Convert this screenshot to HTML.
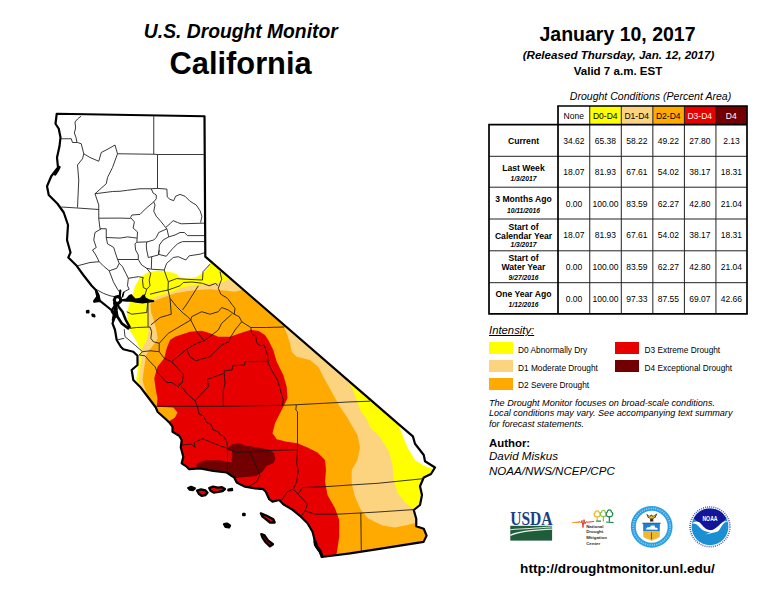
<!DOCTYPE html>
<html lang="en"><head><meta charset="utf-8"><title>U.S. Drought Monitor - California</title>
<style>
html,body{margin:0;padding:0;background:#fff;overflow:hidden;}
body{width:768px;height:593px;position:relative;overflow:hidden;font-family:"Liberation Sans",sans-serif;color:#000;}
.map{position:absolute;left:0;top:0;}
.t{position:absolute;white-space:nowrap;}
.b{font-weight:bold;}
.i{font-style:italic;}
.c{position:absolute;text-align:center;font-size:8.5px;white-space:nowrap;overflow:hidden;}
.rl{position:absolute;display:flex;align-items:center;justify-content:center;}
.rli{text-align:center;}
.lb{font-weight:bold;font-size:8.6px;line-height:8.8px;white-space:nowrap;}
.dt{font-style:italic;font-size:6.5px;line-height:7.5px;margin-top:1px;white-space:nowrap;}
.ln{position:absolute;background:#000;}
.sw{position:absolute;width:24px;height:12px;}
.logos{position:absolute;left:0;top:0;}
</style></head>
<body>
<svg class="map" width="768" height="593" viewBox="0 0 768 593">
<defs><clipPath id="st"><path d="M56.75 113.75 L204.5 116.25 L205.3 256.7 L370 399.4 L398.8 424.4 L412.9 436.4 L415 443.75 L423.75 455 L425 461.25 L435 467.5 L431 474 L423.75 477.5 L420 486.25 L422 495 L420 505 L413.75 510 L416.25 518.75 L416.25 526.25 L423.75 528.75 L426.6 535.6 L423.6 541.9 L377.8 549.1 L350 553.4 L321.7 557 L320.8 552.5 L318.3 550 L315 545 L314.2 538.3 L312.5 531.7 L307.5 523.3 L300 515.8 L291.7 509.2 L283.3 504.2 L279.2 500 L272.5 501.7 L269.2 499.2 L265.8 491.7 L263.3 489.2 L255 488.3 L245 486.7 L236.7 482.5 L234.2 477.5 L226.7 472.5 L213.3 470.8 L200 468.3 L189.2 469.2 L186.7 466.7 L181.7 463.3 L183.3 456.7 L180.8 447.5 L181.7 440 L179.2 435.8 L172.5 431.7 L172.5 426.7 L170 423.3 L166.7 420 L157.5 411.7 L155.8 407.5 L148.3 397.5 L140 386.7 L133.3 380 L131.7 370 L137.5 365 L137.5 355.8 L133.3 351.7 L123.3 349.2 L120.8 346.7 L116.7 340 L115 330 L112.5 323.3 L115 316.7 L114.2 312.5 L108.3 307.5 L100 300.8 L94.2 301.7 L98.3 295.8 L95.8 290 L91.7 285.8 L83.3 275 L76.7 265.8 L68.3 257.5 L70.5 252.5 L67 240 L68 225 L63.75 212.5 L57.5 203.75 L48.75 195 L47 186.25 L51.25 176.25 L58 167.5 L57 157.5 L59.5 146.25 L60.5 137.5 L58.75 128.75 L55.5 123.75Z"/></clipPath></defs>
<path d="M56.75 113.75 L204.5 116.25 L205.3 256.7 L370 399.4 L398.8 424.4 L412.9 436.4 L415 443.75 L423.75 455 L425 461.25 L435 467.5 L431 474 L423.75 477.5 L420 486.25 L422 495 L420 505 L413.75 510 L416.25 518.75 L416.25 526.25 L423.75 528.75 L426.6 535.6 L423.6 541.9 L377.8 549.1 L350 553.4 L321.7 557 L320.8 552.5 L318.3 550 L315 545 L314.2 538.3 L312.5 531.7 L307.5 523.3 L300 515.8 L291.7 509.2 L283.3 504.2 L279.2 500 L272.5 501.7 L269.2 499.2 L265.8 491.7 L263.3 489.2 L255 488.3 L245 486.7 L236.7 482.5 L234.2 477.5 L226.7 472.5 L213.3 470.8 L200 468.3 L189.2 469.2 L186.7 466.7 L181.7 463.3 L183.3 456.7 L180.8 447.5 L181.7 440 L179.2 435.8 L172.5 431.7 L172.5 426.7 L170 423.3 L166.7 420 L157.5 411.7 L155.8 407.5 L148.3 397.5 L140 386.7 L133.3 380 L131.7 370 L137.5 365 L137.5 355.8 L133.3 351.7 L123.3 349.2 L120.8 346.7 L116.7 340 L115 330 L112.5 323.3 L115 316.7 L114.2 312.5 L108.3 307.5 L100 300.8 L94.2 301.7 L98.3 295.8 L95.8 290 L91.7 285.8 L83.3 275 L76.7 265.8 L68.3 257.5 L70.5 252.5 L67 240 L68 225 L63.75 212.5 L57.5 203.75 L48.75 195 L47 186.25 L51.25 176.25 L58 167.5 L57 157.5 L59.5 146.25 L60.5 137.5 L58.75 128.75 L55.5 123.75Z" fill="#ffffff"/>
<g clip-path="url(#st)">
<polygon fill="#ffff00" points="215,258 210,262.5 207.5,268.3 202.5,273.3 196.7,276.7 190,278.3 180,277.5 176,273.75 170,271.9 157.5,270.6 147.5,272.5 140,277.5 135,286.25 132.5,295 129.4,303.75 126.9,312.5 127.5,322.5 130,331 135,338.4 139.3,346.9 141.5,350.5 139.6,353.5 139.3,355.3 138.4,363.7 137.2,372.2 136.3,379.7 138,384.5 140.8,387.5 120,395 120,600 450,600 450,470 432.5,468.75 425,466.25 415,460 407.5,447.5 402.5,435 397.5,422.5 405,410"/>
<polygon fill="#fcd37f" points="240,270 229.2,279.2 221.7,282.5 213.3,283.3 203.3,284.2 190,285.8 180,288.3 176,290.6 167.5,293.5 155,296.9 148.2,304.2 148.2,325.3 148.5,330 147.3,338.4 145.2,342.6 143,346.9 141.2,351 141.8,355.3 141,363.7 139.7,372.2 138.9,379.7 140,386 142.5,390 130,395 130,600 450,600 450,509.5 417,509.5 412.5,508.75 405,502.5 397.5,492.5 393.75,480 392.5,465 388.75,451 380,437 370,427.5 367.5,420 360,410 355,395 350,383.75 360,380"/>
<polygon fill="#ffaa00" points="255,285 241.7,290 235,291.7 226.7,290.8 218.3,290 210,289.2 196.7,290 186.7,291.3 180,292.5 176,293.1 167.5,296 157.5,299.4 151.6,302.5 150.3,304.2 151.1,312.6 154.1,321.1 156.2,329.5 157.8,338.4 155.3,342.6 151.9,346.9 148.5,351 146,355.3 144.8,363.7 143.5,372.2 142.6,379.7 144,386 147.5,395 135,400 135,600 450,600 450,520 416.5,522.8 407.5,525 395,527.4 382.5,525.4 377.8,523.2 368.3,518.6 360.5,509.3 355,496.7 351.7,483.3 351.7,470 357.5,460 360,447.5 357.5,435 350,422.5 347.8,418.3 340,406.7 331.7,391.7 323.3,376.7 318.3,366.7 310,360 296.7,356.7 291.7,351.7 290,343.3 286.7,333.3 284.2,327.5 295,320"/>
<polygon fill="#e60000" points="170,420.8 175,417.5 177.5,412.5 173.3,407.5 156.7,406.7 157.5,398.3 155.8,390 154.2,378.3 157.5,366.7 164.2,358.3 166.7,348.3 170,340 175,336.75 180,335 190,331.7 201.7,330.8 210,333.3 218.3,336.7 230,336.7 240,333.3 250,330 258.3,330.8 265,335 268.3,340 273.3,350 276.7,361.7 283.3,375 286.7,386.7 287.5,398.3 284.2,405 280,413.3 275,423.3 272.5,433.3 276.7,439.2 286.7,441.7 297.5,443.2 307.5,447.5 317.5,452.5 325,460 326,470 325,481.7 327.5,495 335,508.3 339.2,520 339.2,536.7 337.5,548.3 336.7,553.3 337,600 100,600 100,425"/>
<polygon fill="#730000" points="227.5,448.3 231.7,444.2 238.3,443.3 246.7,445.8 258.3,447.5 270,450 274.2,453.3 275.3,459.2 273.3,463.3 266.7,465.8 262.5,471.7 256.7,475.8 246.7,477 240,477.5 234.2,478.5 227.5,476 210,474 196,472 196.7,464.2 200.5,462 205.8,460.3 220,460.3 227.5,462 231.9,461.9 231.9,450.8 228.6,450.4"/>
</g>
<path d="M81 116.25 L77.5 119 L75 122 L75.6 128 L74.4 133 L76 137.5 L77 142.5 M61.25 138.75 L71.25 138.75 L72.5 142.5 L77.5 142.5 L81.25 143.75 M81.25 143.75 L83.75 153.75 L82.5 158.75 L77.5 165 L78.75 180 L77.5 207.5 M83.75 153.75 L90 157.5 L98.75 161.25 L101.25 152.5 L108 149 L115 145 L117.5 153.75 M117.5 153.75 L153.75 154.25 L157.5 154.5 L203.75 154.5 M153.75 116.25 L153.75 154.25 M117.5 153.75 L112.5 167.5 L107.5 177.5 L106.25 183.75 L95 193.75 M157.5 154.5 L157.5 188.4 M95 193.75 L112.5 191.5 L120 191.25 L127.5 190.25 L140 188.75 L151.25 188.75 L157.5 188.4 L166.9 189.1 M166.9 189.1 L167.25 196.9 L170 199.4 L173.75 200.6 L175.6 196.25 L180 194.4 L185 196.25 L190 201.25 L196.25 205 L200 210.6 L201.9 216.25 L200.6 222.5 M95 193.75 L98.75 205 L98.75 218.75 L100 228.75 M61.25 207 L77.5 208 L98.75 209.5 M98.75 218.2 L120 218.1 L130.6 218.4 M151.25 188.75 L153.1 193.1 L156.25 195 L156.25 198.75 L153.75 201.9 L150 205 L146.25 208.1 L142.5 211.9 L140 214.4 L131.9 215 L130.6 217.5 L134.4 221.9 L133.1 228.1 L137.5 231.9 L136.9 241.9 M153.75 201.9 L155 205 L153.75 211.25 L156.25 216.25 L161.25 221.9 L165.6 227.5 M165.6 227.5 L170 223.75 L173.1 220.6 L177.5 222.5 L181.25 223.8 L205 223.1 M166.9 228.75 L158.75 232.5 L156.25 237.5 L153.75 240 L146.9 241.9 L136.9 242.25 M165.6 227.5 L166.9 228.75 L168.75 236.9 L175 235 L180 232.5 L184.4 232.5 L187.5 235.6 L205 235.6 M168.75 236.9 L163.1 240 L159.4 245 L158.75 254.4 M205 241.6 L182.5 241.6 L177.5 243.75 L172.5 248.75 L168.75 253.1 L166.25 256.25 L158.75 254.4 M100 228.75 L106.25 228.75 L106.25 237.5 L120 238.1 L127.5 236.9 L132.5 237.5 L136.9 238.1 M101.25 228.75 L95 232.5 L93.75 240 L96.25 247.5 L92.5 250 L95.8 255 L99.2 261.7 M106.25 237.5 L107.5 243.75 L113.75 247.5 L115 251.7 L117.5 259.2 M136.9 242.25 L135 243.75 L135.6 250 L138.3 255 L138.3 259.5 M146.9 241.9 L146.25 245 L146.7 250 L148.3 257.5 L151.7 256.7 M77.5 265.8 L90 262.5 L99.2 261.7 L104.2 266.7 L109.2 270.8 M109.2 270.8 L116.7 268.3 L119.2 263.3 L117.5 259.2 M117.5 259.5 L138.3 259.5 L141.7 265 L146.7 268.3 L150.8 269.2 M159.2 250 L158.3 255 L151.7 256.7 L151.3 269.2 L164.2 270 M164.2 270 L166.7 263.3 L173.3 257.5 L178.3 256.7 L185.8 260 L189.2 255.8 L200 254.2 L205 252.5 M109.2 270.8 L113.3 281.7 L117.5 289.2 L119.2 291.7 M119.2 263.3 L122.5 266.7 L125.8 273.3 L128.3 278.3 L127.5 285.8 L129.2 289.2 L124.2 291.7 L122.5 295.8 M128.3 278.3 L133.3 277.5 L138.3 276.7 L143.3 277.5 M146.7 268.3 L150.8 273.3 L149.2 280 L150 285.8 L146.7 289.2 L143.3 287.5 L142.5 280 L143.3 277.5 M146.7 289.2 L145 295 M164.2 270 L166.7 277.5 L168.3 281.7 L168 290 M168.3 281.7 L176.7 278.6 L185 279.2 L202.5 280 L203 271.7 L210 264.2 M150 294.2 L160 291.7 L168 290 L180 285.8 L183.3 282.5 L192 282 L202.5 283.3 L209.2 285.8 L215.8 283.3 L217.5 285.8 M168 290 L170 298.3 L171.3 314.2 L160 317.5 L150.8 325 M170 298.3 L176.7 306.7 L183.3 313.3 L187.8 316.7 L190.8 320 M182.5 310 L186.7 304.2 L192.5 295 L198.3 285.8 M126.7 311.7 L131.7 314.2 L146.7 312.5 L148 300 M148 300 L148 326.7 M130 328.3 L136.7 327.5 L150 327 M150 327 L151.7 331.7 L150.8 338.3 L153.3 341.7 L159.2 343.3 L159.2 351.7 M159.2 343.3 L168.3 333.3 L176.7 328.3 L190.8 320 M124.2 329.2 L125 336.7 L130 340.8 L135.8 345.8 L142.5 351.7 L139.2 355 M116.7 340 L124.2 338.3 M95.8 289.2 L103.3 293.3 L110 295.8 L115 296.7 M220 271.7 L221.7 279.2 L220 283.3 L218.3 288.3 L220.8 294.2 L227.5 298.3 L231.7 304.2 L235 308.3 L234.2 314.2 M190.8 320 L191.7 316.7 L201.7 311.7 L210 314.2 L218.3 311.7 L221.7 307.5 L228.3 310 L234.2 314.2 M190.8 320 L196.7 331.7 L204.2 340.8 L196.7 343.3 L186.7 349.2 M231.7 314.2 L221.7 323.3 L218.3 330 L204.2 340.8 M234.2 314.2 L239.2 316.7 L241.7 321.7 L235 330 L230 338.3 L229.2 341.7 L221.7 345 L216.7 350 L210 356.7 L195.8 360.8 L190 356.7 L186.7 349.2 M241.7 321.7 L250.8 327.5 L266.7 327.5 L284.2 327 M250.8 327.5 L251.7 333.3 L255.8 336.7 L256.7 342.5 L260 345.8 L264.2 345 L267.5 355 L268.3 363.3 L273.3 373.3 L277.5 380 L280.8 391.7 L283.3 400 L282.5 405 M142.5 351.7 L150 350.8 L159.2 351.7 L164.2 358.3 M139.2 355 L145 355.8 L150 361.7 L155 366.7 L157.5 372.5 L166.7 382.5 L171.7 382.5 L178.3 386.7 L181.7 383.3 M164.2 358.3 L171.7 361.7 L183.3 374.2 L182.5 382.5 L178.3 384.2 M171.7 361.7 L186.7 349.2 M181.7 386.7 L186.7 393.3 L195 400.8 L197.5 406.3 M195 400.8 L208.3 386.7 L207.5 379.2 L224.2 373.3 L224.2 370.8 L232.2 370 L232.5 365.8 L244.7 365 L245 361.7 L267.5 361.3 M224.2 373.3 L225 383.3 L223.3 390 L223.3 406.3 M156.7 406.3 L197.5 406.3 L223.3 406.3 L253.3 405.8 L283.3 405.3 L296.7 404.7 L323.3 403.3 L347.8 402 L370 401.2 M296.3 405 L295.8 410 L297.5 411.7 L297.5 450 L296.7 463.3 L298.3 470 L296.7 481.7 L293.3 489.2 M197.5 406.7 L199.2 414.2 L203.3 415.8 L206.7 422.5 L210.8 424.2 L213.3 430 L218.3 431.7 L220 435 L223.3 435.8 L226.7 441.7 L227.5 447.5 M227.5 447.5 L227.5 471.7 M181.7 445 L191.7 444.2 L195 447.5 L194.2 442.5 L202.5 438.7 L211.7 442.5 L220 445.8 L227.5 448.3 M227.5 448.3 L236.7 452.5 L250 451.7 L270 450.5 L297.8 449.7 M250 451.7 L260 475 L256.7 481.7 L248.3 486.7 M293.3 489.2 L298.3 494.2 L307.5 504.2 L305 510.8 L301.7 515.8 M293.3 489.2 L287.5 491.7 L281.7 500 M298.3 494.2 L302.5 487.5 L325 486.7 L350 485 L377.8 483.3 L422.5 478.75 M305 510.8 L315 514.2 L336.7 514.2 L360 513 L377.8 512 L415 509.5 M360.8 513 L361.3 550.5" fill="none" stroke="#151515" stroke-width="0.85" stroke-linejoin="round"/>
<path d="M56.75 113.75 L204.5 116.25 L205.3 256.7 L370 399.4 L398.8 424.4 L412.9 436.4 L415 443.75 L423.75 455 L425 461.25 L435 467.5 L431 474 L423.75 477.5 L420 486.25 L422 495 L420 505 L413.75 510 L416.25 518.75 L416.25 526.25 L423.75 528.75 L426.6 535.6 L423.6 541.9 L377.8 549.1 L350 553.4 L321.7 557 L320.8 552.5 L318.3 550 L315 545 L314.2 538.3 L312.5 531.7 L307.5 523.3 L300 515.8 L291.7 509.2 L283.3 504.2 L279.2 500 L272.5 501.7 L269.2 499.2 L265.8 491.7 L263.3 489.2 L255 488.3 L245 486.7 L236.7 482.5 L234.2 477.5 L226.7 472.5 L213.3 470.8 L200 468.3 L189.2 469.2 L186.7 466.7 L181.7 463.3 L183.3 456.7 L180.8 447.5 L181.7 440 L179.2 435.8 L172.5 431.7 L172.5 426.7 L170 423.3 L166.7 420 L157.5 411.7 L155.8 407.5 L148.3 397.5 L140 386.7 L133.3 380 L131.7 370 L137.5 365 L137.5 355.8 L133.3 351.7 L123.3 349.2 L120.8 346.7 L116.7 340 L115 330 L112.5 323.3 L115 316.7 L114.2 312.5 L108.3 307.5 L100 300.8 L94.2 301.7 L98.3 295.8 L95.8 290 L91.7 285.8 L83.3 275 L76.7 265.8 L68.3 257.5 L70.5 252.5 L67 240 L68 225 L63.75 212.5 L57.5 203.75 L48.75 195 L47 186.25 L51.25 176.25 L58 167.5 L57 157.5 L59.5 146.25 L60.5 137.5 L58.75 128.75 L55.5 123.75Z" fill="none" stroke="#000" stroke-width="2.2" stroke-linejoin="round"/>
<path d="M315.2 542 L316.6 546.4 L319.6 550.4 L321.6 555.2" fill="none" stroke="#000" stroke-width="3.2" stroke-linejoin="round" stroke-linecap="round"/>
<path d="M59.4 167.2 L57.6 170.6 L55.2 174.4" fill="none" stroke="#000" stroke-width="2.6" stroke-linejoin="round" stroke-linecap="round"/>
<path d="M121.5 299.3 L126 298.4 L129 295 L131.5 294.1 L133.5 296.5 L135.5 298.4 L140 297.8 L142.5 295 L144.8 294.3 L145.7 297.5 L149 299.3 L154.2 300.2 L154.2 302 L148 302.8 L142.5 303.4 L136 302.8 L131 301.8 L126.5 301.8 L121.5 301.2Z" fill="#000"/>
<path d="M114.2 300 L115.4 297.2 L118 296.4 L120.4 298.2 L120.6 301.4 L118.4 303.4 L115.4 303 L114.2 300" fill="none" stroke="#000" stroke-width="3" stroke-linejoin="round" stroke-linecap="round"/>
<path d="M119.6 297.5 L120.3 290.6" fill="none" stroke="#000" stroke-width="2.2" stroke-linejoin="round" stroke-linecap="round"/>
<path d="M122.5 296.8 L123.6 292.6" fill="none" stroke="#000" stroke-width="1.6" stroke-linejoin="round" stroke-linecap="round"/>
<path d="M114.4 303 L115.4 306.7 L116.2 311 L117.5 316.7 L121.7 323.3 L128.3 328.3" fill="none" stroke="#000" stroke-width="2.7" stroke-linejoin="round" stroke-linecap="round"/>
<path d="M117.4 304 L118.6 306.7 L122.5 311.7 L125.8 320 L129.6 326.9" fill="none" stroke="#000" stroke-width="2.5" stroke-linejoin="round" stroke-linecap="round"/>
<path d="M113.8 313 L116.2 308.5" fill="none" stroke="#000" stroke-width="3" stroke-linejoin="round" stroke-linecap="round"/>
<path d="M112.6 309 L115.6 305" fill="none" stroke="#000" stroke-width="2.4" stroke-linejoin="round" stroke-linecap="round"/>
<path d="M94.6 288.2 L97.2 290.4 L99.4 294.6 L100.8 300.2 L98.4 300.6 L94.2 302.6 L93.2 300.6 L96.2 296.6 L95.4 293Z" fill="#000"/>
<path d="M115.2 303 L116.2 316" fill="none" stroke="#000" stroke-width="3.4" stroke-linejoin="round" stroke-linecap="round"/>
<path d="M112 311.5 L114 314.5 L113 320" fill="none" stroke="#000" stroke-width="2.6" stroke-linejoin="round" stroke-linecap="round"/>
<path d="M188.3 488 L191 486.9 L194.8 488.4 L193 490 L189.6 489.6Z" fill="#000" stroke="#000" stroke-width="2.3" stroke-linejoin="round"/>
<path d="M197 490.5 L201 489.4 L205.5 490.4 L207.5 492.8 L205.5 495 L201.6 495.8 L198.8 493.8Z" fill="#e60000" stroke="#000" stroke-width="2.3" stroke-linejoin="round"/>
<path d="M209.2 488 L213 486.7 L218 487.6 L222 487.2 L225 489 L222.6 491 L218.6 491.8 L213.6 492.5 L210.6 490.8Z" fill="#e60000" stroke="#000" stroke-width="2.3" stroke-linejoin="round"/>
<path d="M228.4 489.6 L232 489 L232 490.2 L228.4 490.4Z" fill="#000" stroke="#000" stroke-width="2.3" stroke-linejoin="round"/>
<path d="M260.8 513.3 L266.7 515.8 L273.3 519.2 L274.7 522.5 L270 522.5 L265.8 519.2 L262.5 516.7Z" fill="#e60000" stroke="#000" stroke-width="2.3" stroke-linejoin="round"/>
<path d="M261.3 534.2 L264.2 535 L268.3 540.8 L273 544.2 L270 546.3 L265.8 542.5 L262.5 537.5Z" fill="#c00000" stroke="#000" stroke-width="2.3" stroke-linejoin="round"/>
<path d="M224 524.2 L227 523.6 L230 525.4 L229 527.4 L225.6 526.8Z" fill="#000" stroke="#000" stroke-width="2.3" stroke-linejoin="round"/>
<path d="M243.2 514 L244.6 513.8 L244.6 515.2 L243.2 515.2Z" fill="#000" stroke="#000" stroke-width="2.3" stroke-linejoin="round"/>
<path d="M87 311.2 L88.4 311 L88.4 312.4 L87 312.4Z" fill="#000" stroke="#000" stroke-width="2.3" stroke-linejoin="round"/>
<path d="M92.4 314.6 L94 315 L94.4 316.4 L92.8 316Z" fill="#000" stroke="#000" stroke-width="2.3" stroke-linejoin="round"/>
</svg>
<div class="t b i" style="top:21.23px;font-size:19.30px;line-height:21.558px;left:40.80px;width:400.00px;text-align:center;">U.S. Drought Monitor</div>
<div class="t b" style="top:46.63px;font-size:30.80px;line-height:34.404px;left:40.60px;width:400.00px;text-align:center;">California</div>
<div class="t b" style="top:23.85px;font-size:19.50px;line-height:21.782px;left:467.00px;width:301.00px;text-align:center;">January 10, 2017</div>
<div class="t b i" style="top:48.50px;font-size:11.60px;line-height:12.957px;left:469.00px;width:299.00px;text-align:center;">(Released Thursday, Jan. 12, 2017)</div>
<div class="t b" style="top:65.35px;font-size:11.55px;line-height:12.901px;left:468.00px;width:300.00px;text-align:center;">Valid 7 a.m. EST</div>
<div class="t i" style="top:91.45px;font-size:10.55px;line-height:11.784px;left:533.00px;width:235.00px;text-align:center;">Drought Conditions (Percent Area)</div>
<div class="c" style="left:558.00px;top:106.00px;width:31.50px;height:18.60px;background:#fff;color:#000;line-height:20.10px">None</div>
<div class="c" style="left:589.50px;top:106.00px;width:31.50px;height:18.60px;background:#ffff00;color:#000;line-height:20.10px">D0-D4</div>
<div class="c" style="left:621.00px;top:106.00px;width:31.50px;height:18.60px;background:#fcd37f;color:#000;line-height:20.10px">D1-D4</div>
<div class="c" style="left:652.50px;top:106.00px;width:31.50px;height:18.60px;background:#ffaa00;color:#000;line-height:20.10px">D2-D4</div>
<div class="c" style="left:684.00px;top:106.00px;width:31.50px;height:18.60px;background:#e60000;color:#fff;line-height:20.10px">D3-D4</div>
<div class="c" style="left:715.50px;top:106.00px;width:31.50px;height:18.60px;background:#730000;color:#fff;line-height:20.10px">D4</div>
<div class="t b" style="top:136.52px;font-size:8.60px;line-height:9.606px;left:323.50px;width:400.00px;text-align:center;">Current</div>
<div class="t " style="top:136.81px;font-size:8.50px;line-height:9.495px;left:379.90px;width:388.10px;text-align:center;">34.62</div>
<div class="t " style="top:136.81px;font-size:8.50px;line-height:9.495px;left:442.90px;width:325.10px;text-align:center;">65.38</div>
<div class="t " style="top:136.81px;font-size:8.50px;line-height:9.495px;left:505.90px;width:262.10px;text-align:center;">58.22</div>
<div class="t " style="top:136.81px;font-size:8.50px;line-height:9.495px;left:568.90px;width:199.10px;text-align:center;">49.22</div>
<div class="t " style="top:136.81px;font-size:8.50px;line-height:9.495px;left:631.90px;width:136.10px;text-align:center;">27.80</div>
<div class="t " style="top:136.81px;font-size:8.50px;line-height:9.495px;left:694.90px;width:73.10px;text-align:center;">2.13</div>
<div class="t b" style="top:163.52px;font-size:8.60px;line-height:9.606px;left:323.50px;width:400.00px;text-align:center;">Last Week</div>
<div class="t b i" style="top:174.89px;font-size:6.70px;line-height:7.484px;left:323.50px;width:400.00px;text-align:center;">1/3/2017</div>
<div class="t " style="top:168.36px;font-size:8.50px;line-height:9.495px;left:379.90px;width:388.10px;text-align:center;">18.07</div>
<div class="t " style="top:168.36px;font-size:8.50px;line-height:9.495px;left:442.90px;width:325.10px;text-align:center;">81.93</div>
<div class="t " style="top:168.36px;font-size:8.50px;line-height:9.495px;left:505.90px;width:262.10px;text-align:center;">67.61</div>
<div class="t " style="top:168.36px;font-size:8.50px;line-height:9.495px;left:568.90px;width:199.10px;text-align:center;">54.02</div>
<div class="t " style="top:168.36px;font-size:8.50px;line-height:9.495px;left:631.90px;width:136.10px;text-align:center;">38.17</div>
<div class="t " style="top:168.36px;font-size:8.50px;line-height:9.495px;left:694.90px;width:73.10px;text-align:center;">18.31</div>
<div class="t b" style="top:195.42px;font-size:8.60px;line-height:9.606px;left:323.50px;width:400.00px;text-align:center;">3 Months Ago</div>
<div class="t b i" style="top:207.19px;font-size:6.70px;line-height:7.484px;left:323.50px;width:400.00px;text-align:center;">10/11/2016</div>
<div class="t " style="top:199.91px;font-size:8.50px;line-height:9.495px;left:379.90px;width:388.10px;text-align:center;">0.00</div>
<div class="t " style="top:199.91px;font-size:8.50px;line-height:9.495px;left:442.90px;width:325.10px;text-align:center;">100.00</div>
<div class="t " style="top:199.91px;font-size:8.50px;line-height:9.495px;left:505.90px;width:262.10px;text-align:center;">83.59</div>
<div class="t " style="top:199.91px;font-size:8.50px;line-height:9.495px;left:568.90px;width:199.10px;text-align:center;">62.27</div>
<div class="t " style="top:199.91px;font-size:8.50px;line-height:9.495px;left:631.90px;width:136.10px;text-align:center;">42.80</div>
<div class="t " style="top:199.91px;font-size:8.50px;line-height:9.495px;left:694.90px;width:73.10px;text-align:center;">21.04</div>
<div class="t b" style="top:222.52px;font-size:8.60px;line-height:9.606px;left:323.50px;width:400.00px;text-align:center;">Start of</div>
<div class="t b" style="top:231.92px;font-size:8.60px;line-height:9.606px;left:323.50px;width:400.00px;text-align:center;">Calendar Year</div>
<div class="t b i" style="top:241.09px;font-size:6.70px;line-height:7.484px;left:323.50px;width:400.00px;text-align:center;">1/3/2017</div>
<div class="t " style="top:231.46px;font-size:8.50px;line-height:9.495px;left:379.90px;width:388.10px;text-align:center;">18.07</div>
<div class="t " style="top:231.46px;font-size:8.50px;line-height:9.495px;left:442.90px;width:325.10px;text-align:center;">81.93</div>
<div class="t " style="top:231.46px;font-size:8.50px;line-height:9.495px;left:505.90px;width:262.10px;text-align:center;">67.61</div>
<div class="t " style="top:231.46px;font-size:8.50px;line-height:9.495px;left:568.90px;width:199.10px;text-align:center;">54.02</div>
<div class="t " style="top:231.46px;font-size:8.50px;line-height:9.495px;left:631.90px;width:136.10px;text-align:center;">38.17</div>
<div class="t " style="top:231.46px;font-size:8.50px;line-height:9.495px;left:694.90px;width:73.10px;text-align:center;">18.31</div>
<div class="t b" style="top:253.92px;font-size:8.60px;line-height:9.606px;left:323.50px;width:400.00px;text-align:center;">Start of</div>
<div class="t b" style="top:263.32px;font-size:8.60px;line-height:9.606px;left:323.50px;width:400.00px;text-align:center;">Water Year</div>
<div class="t b i" style="top:273.79px;font-size:6.70px;line-height:7.484px;left:323.50px;width:400.00px;text-align:center;">9/27/2016</div>
<div class="t " style="top:263.01px;font-size:8.50px;line-height:9.495px;left:379.90px;width:388.10px;text-align:center;">0.00</div>
<div class="t " style="top:263.01px;font-size:8.50px;line-height:9.495px;left:442.90px;width:325.10px;text-align:center;">100.00</div>
<div class="t " style="top:263.01px;font-size:8.50px;line-height:9.495px;left:505.90px;width:262.10px;text-align:center;">83.59</div>
<div class="t " style="top:263.01px;font-size:8.50px;line-height:9.495px;left:568.90px;width:199.10px;text-align:center;">62.27</div>
<div class="t " style="top:263.01px;font-size:8.50px;line-height:9.495px;left:631.90px;width:136.10px;text-align:center;">42.80</div>
<div class="t " style="top:263.01px;font-size:8.50px;line-height:9.495px;left:694.90px;width:73.10px;text-align:center;">21.04</div>
<div class="t b" style="top:290.02px;font-size:8.60px;line-height:9.606px;left:323.50px;width:400.00px;text-align:center;">One Year Ago</div>
<div class="t b i" style="top:301.19px;font-size:6.70px;line-height:7.484px;left:323.50px;width:400.00px;text-align:center;">1/12/2016</div>
<div class="t " style="top:294.56px;font-size:8.50px;line-height:9.495px;left:379.90px;width:388.10px;text-align:center;">0.00</div>
<div class="t " style="top:294.56px;font-size:8.50px;line-height:9.495px;left:442.90px;width:325.10px;text-align:center;">100.00</div>
<div class="t " style="top:294.56px;font-size:8.50px;line-height:9.495px;left:505.90px;width:262.10px;text-align:center;">97.33</div>
<div class="t " style="top:294.56px;font-size:8.50px;line-height:9.495px;left:568.90px;width:199.10px;text-align:center;">87.55</div>
<div class="t " style="top:294.56px;font-size:8.50px;line-height:9.495px;left:631.90px;width:136.10px;text-align:center;">69.07</div>
<div class="t " style="top:294.56px;font-size:8.50px;line-height:9.495px;left:694.90px;width:73.10px;text-align:center;">42.66</div>
<svg class="map" width="768" height="593" viewBox="0 0 768 593">
<path d="M589.75 106.00 V313.90 M621.30 106.00 V313.90 M652.85 106.00 V313.90 M684.40 106.00 V313.90 M715.95 106.00 V313.90 M489.00 156.30 H747.00 M489.00 187.20 H747.00 M489.00 219.00 H747.00 M489.00 250.80 H747.00 M489.00 282.70 H747.00" stroke="#222" stroke-width="1" fill="none"/>
<path d="M557.15 106.00 H747.85 M488.15 124.60 H747.85 M488.15 313.90 H747.85 M489.00 124.60 V313.90 M558.00 106.00 V313.90 M747.00 106.00 V313.90" stroke="#000" stroke-width="1.70" fill="none"/>
</svg>
<div class="t i" style="top:324.07px;font-size:11.30px;line-height:12.622px;left:489.00px;text-decoration:underline;">Intensity:</div>
<div class="sw" style="left:488.75px;top:341.75px;background:#ffff00"></div>
<div class="t " style="top:346.34px;font-size:8.30px;line-height:9.271px;left:518.05px;">D0 Abnormally Dry</div>
<div class="sw" style="left:488.75px;top:360.00px;background:#fcd37f"></div>
<div class="t " style="top:363.79px;font-size:8.30px;line-height:9.271px;left:518.05px;">D1 Moderate Drought</div>
<div class="sw" style="left:488.75px;top:378.00px;background:#ffaa00"></div>
<div class="t " style="top:380.99px;font-size:8.30px;line-height:9.271px;left:518.05px;">D2 Severe Drought</div>
<div class="sw" style="left:615.25px;top:341.75px;background:#e60000"></div>
<div class="t " style="top:346.34px;font-size:8.30px;line-height:9.271px;left:644.55px;">D3 Extreme Drought</div>
<div class="sw" style="left:615.25px;top:360.00px;background:#730000"></div>
<div class="t " style="top:363.79px;font-size:8.30px;line-height:9.271px;left:644.55px;">D4 Exceptional Drought</div>
<div class="t i" style="top:397.86px;font-size:9.10px;line-height:10.165px;left:489.00px;">The Drought Monitor focuses on broad-scale conditions.</div>
<div class="t i" style="top:408.26px;font-size:9.10px;line-height:10.165px;left:489.00px;">Local conditions may vary. See accompanying text summary</div>
<div class="t i" style="top:419.26px;font-size:9.10px;line-height:10.165px;left:489.00px;">for forecast statements.</div>
<div class="t b" style="top:436.68px;font-size:11.40px;line-height:12.734px;left:489.00px;">Author:</div>
<div class="t i" style="top:450.40px;font-size:11.60px;line-height:12.957px;left:489.00px;">David Miskus</div>
<div class="t i" style="top:464.95px;font-size:11.55px;line-height:12.901px;left:489.00px;">NOAA/NWS/NCEP/CPC</div>
<div class="t b" style="top:561.49px;font-size:13.60px;line-height:15.191px;left:467.00px;width:301.00px;text-align:center;">http://droughtmonitor.unl.edu/</div>
<svg class="logos" width="768" height="593" viewBox="0 0 768 593">
<!-- USDA -->
<g>
<text x="510.2" y="524.8" font-family="Liberation Serif, serif" font-weight="bold" font-size="18.6" fill="#1c3f84" textLength="42.4" lengthAdjust="spacingAndGlyphs">USDA</text>
<rect x="510.3" y="525.8" width="41.8" height="14.8" fill="#1f5c3a"/>
<path d="M510.3 529.2 C522 528.6 537 527.6 552.1 526.6 L552.1 527.6 C537 528.6 522 529.6 510.3 530.2Z" fill="#fff" opacity="0.85"/>
<path d="M510.3 534.6 C520 530.6 536 529.3 552.1 528.6 L552.1 529.7 C536 530.4 521 531.8 510.3 535.9Z" fill="#fff" opacity="0.9"/>
</g>
<!-- NDMC -->
<g>
<path d="M572.6 522.6 L578 522.3 L580 521.6 L581.2 522.8 L582 520.4 L583 527.6 L584 519.6 L585 524 L586 521.8 L588 522.2 L594 521.4" fill="none" stroke="#e8412a" stroke-width="1" stroke-linejoin="round"/>
<path d="M572.6 522.6 L578 522.3 L580 521.6" fill="none" stroke="#f7a11a" stroke-width="1"/>
<g fill="none" stroke-width="1.25">
<path d="M597.2 520.6 V516.5 M597.2 516.8 C593.6 517.2 593.6 513 595.4 512.6 C595 510.2 599.4 510.2 599 512.6 C601 513 600.8 517.2 597.2 516.8" stroke="#f2b61c"/>
<path d="M603.4 521.6 V516 M603.4 516.6 C599.8 517 599.8 512.6 601.6 512.2 C601.2 509.8 605.6 509.8 605.2 512.2 C607.2 512.6 607 517 603.4 516.6" stroke="#8cc152"/>
<path d="M609.4 521.8 V516 M609.4 516.8 C605.4 517.2 605.4 512.4 607.4 512 C607 509.2 611.8 509.2 611.4 512 C613.6 512.4 613.4 517.2 609.4 516.8" stroke="#1f8a4c"/>
<path d="M596 521.2 H601 M606 522 L613.6 522.6" stroke="#1f8a4c"/>
</g>
<g font-family="Liberation Sans, sans-serif" font-size="4.4" font-weight="bold" fill="#2a2a2a">
<text x="586.2" y="527.6">National</text>
<text x="586.2" y="533.2">Drought</text>
<text x="586.2" y="538.9">Mitigation</text>
<text x="586.2" y="544.5">Center</text>
</g>
</g>
<!-- Dept of Commerce seal -->
<g>
<circle cx="651.7" cy="526.8" r="18.4" fill="#fff" stroke="#2c9fe3" stroke-width="4.9"/>
<circle cx="651.7" cy="526.8" r="18.4" fill="none" stroke="#fff" stroke-width="1.8" stroke-dasharray="1.0 1.3" opacity="0.5"/>
<path d="M646.2 513.4 L649.6 516 L651.4 514.6 L653 516 L657.4 513.2 L655.6 517.6 L653.2 518.8 L653.4 521.4 L650 521.4 L650.2 518.8 L647.8 517.4Z" fill="#3a3214"/>
<path d="M647.4 514.6 L650 516.8 L651.4 515.4 L652.8 516.8 L656 514.6 L654.6 517.2 L652.4 518.4 L650.4 518.4 L648.6 517Z" fill="#e9b92c"/>
<path d="M642.4 523.2 H660.6 L659.8 524.4 V531.4 H643.2 V524.4Z" fill="#1f7fd0"/>
<path d="M643.2 531.4 H659.8 V536.6 C657.4 539.4 654.4 539 651.6 541 C648.8 539 645.6 539.4 643.2 536.6Z" fill="#efb82e"/>
<path d="M645.6 529.6 L647 527.4 L650 527 L651 525.4 L654.6 525.6 L655 527.6 L657.6 528 L657.6 529.8Z" fill="#fff"/>
<path d="M651.5 532.4 V539.2" stroke="#7a5a12" stroke-width="1.1"/>
<path d="M642.4 523.2 H660.6" stroke="#1a3c6c" stroke-width="0.8"/>
</g>
<!-- NOAA -->
<g>
<circle cx="710" cy="526.8" r="20.2" fill="#fff"/>
<circle cx="710" cy="526.8" r="19.9" fill="none" stroke="#2a2aa8" stroke-width="1.6" stroke-dasharray="0.9 1.2" opacity="0.85"/>
<circle cx="710" cy="526.8" r="18.4" fill="#1c8fd3"/>
<path d="M693.8 518.2 A18.4 18.4 0 0 1 726.4 518.6 L717.6 527.8 C714 531 706.4 531 702.8 527.4Z" fill="#15159a"/>
<path d="M691.8 523.6 C695 520.6 699 520.8 702 525 C705 529.2 709.6 531.4 713.6 529.4 C719.6 526.6 722.6 519 728.4 521.6 C724.4 521 722.4 525 719.6 529.6 C717.6 532.6 714.6 532.4 712 533 L705.4 534.6 L710.2 532.2 C704.4 532 701.2 529.4 698.4 526 C696.2 523.6 694.2 523 691.8 523.6Z" fill="#fff"/>
<text x="702.4" y="520.9" font-family="Liberation Sans, sans-serif" font-weight="bold" font-size="6.6" fill="#fff" textLength="15.2" lengthAdjust="spacingAndGlyphs">NOAA</text>
</g>
</svg>

</body></html>
